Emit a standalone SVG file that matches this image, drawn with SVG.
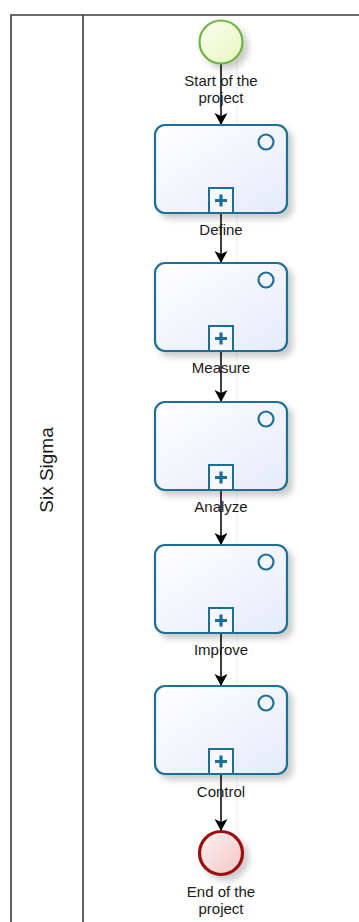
<svg xmlns="http://www.w3.org/2000/svg" width="359" height="922" viewBox="0 0 359 922">
<style>
.lbl{font-family:"Liberation Sans",Arial,sans-serif;font-size:15px;fill:#1a1a1a;text-anchor:middle}
.task{fill:url(#tg);stroke:#1d6f96;stroke-width:2.2}
.tc{fill:none;stroke:#1d6f96;stroke-width:2.2}
.pb{fill:#f7f8fe;stroke:#1d6f96;stroke-width:2}
.plus{stroke:#1d6f96;stroke-width:3.2}
.conn{stroke:#000;stroke-width:1.5;fill:none;marker-end:url(#arr)}
.pool{fill:none;stroke:#3c3c3c;stroke-width:1.6}
</style>
<defs>
<linearGradient id="tg" x1="0" y1="0" x2="1" y2="1">
<stop offset="0" stop-color="#ffffff"/><stop offset="1" stop-color="#e6eafa"/>
</linearGradient>
<linearGradient id="sg" x1="0" y1="0" x2="1" y2="1">
<stop offset="0" stop-color="#fbfff0"/><stop offset="1" stop-color="#e6f5bf"/>
</linearGradient>
<linearGradient id="eg" x1="0" y1="0" x2="1" y2="1">
<stop offset="0" stop-color="#fdf1f1"/><stop offset="1" stop-color="#f2c6c6"/>
</linearGradient>
<filter id="sh" x="-20%" y="-20%" width="150%" height="150%">
<feDropShadow dx="5" dy="5" stdDeviation="3" flood-color="#000" flood-opacity="0.2"/>
</filter>
<marker id="arr" markerWidth="14" markerHeight="14" refX="12" refY="6.5" orient="auto" markerUnits="userSpaceOnUse">
<path d="M0,0 L12,6.5 L0,13 L3,6.5 Z" fill="#000"/>
</marker>
</defs>
<rect width="359" height="922" fill="#fff"/>
<g id="pool">
<path class="pool" d="M359,15 H11 V922"/>
<line class="pool" x1="83" y1="15" x2="83" y2="922"/>
<text class="lbl" style="font-size:19px" transform="translate(53,470) rotate(-90)">Six Sigma</text>
</g>
<line x1="237" y1="45" x2="237" y2="850" stroke="#ededed" stroke-width="1"/>
<g id="connectors">
<line class="conn" x1="221" y1="64" x2="221" y2="125"/>
<line class="conn" x1="221" y1="213" x2="221" y2="263"/>
<line class="conn" x1="221" y1="351" x2="221" y2="402"/>
<line class="conn" x1="221" y1="490" x2="221" y2="545"/>
<line class="conn" x1="221" y1="633" x2="221" y2="686"/>
<line class="conn" x1="221" y1="774" x2="221" y2="831"/>
</g>
<g id="start">
<circle cx="221" cy="42" r="21.5" fill="url(#sg)" stroke="#6db33f" stroke-width="2.2" filter="url(#sh)"/>
<text class="lbl" x="221" y="86">Start of the</text>
<text class="lbl" x="221" y="103">project</text>
</g>
<g id="define">
<rect class="task" x="155" y="125" width="132" height="88" rx="10" filter="url(#sh)"/>
<circle class="tc" cx="266" cy="142" r="7.5"/>
<rect class="pb" x="209" y="188" width="24" height="25"/>
<path class="plus" d="M215,200.5 H227 M221,194.5 V206.5"/>
<text class="lbl" x="221" y="235">Define</text>
</g>
<g id="measure">
<rect class="task" x="155" y="263" width="132" height="88" rx="10" filter="url(#sh)"/>
<circle class="tc" cx="266" cy="280" r="7.5"/>
<rect class="pb" x="209" y="326" width="24" height="25"/>
<path class="plus" d="M215,338.5 H227 M221,332.5 V344.5"/>
<text class="lbl" x="221" y="373">Measure</text>
</g>
<g id="analyze">
<rect class="task" x="155" y="402" width="132" height="88" rx="10" filter="url(#sh)"/>
<circle class="tc" cx="266" cy="419" r="7.5"/>
<rect class="pb" x="209" y="465" width="24" height="25"/>
<path class="plus" d="M215,477.5 H227 M221,471.5 V483.5"/>
<text class="lbl" x="221" y="512">Analyze</text>
</g>
<g id="improve">
<rect class="task" x="155" y="545" width="132" height="88" rx="10" filter="url(#sh)"/>
<circle class="tc" cx="266" cy="562" r="7.5"/>
<rect class="pb" x="209" y="608" width="24" height="25"/>
<path class="plus" d="M215,620.5 H227 M221,614.5 V626.5"/>
<text class="lbl" x="221" y="655">Improve</text>
</g>
<g id="control">
<rect class="task" x="155" y="686" width="132" height="88" rx="10" filter="url(#sh)"/>
<circle class="tc" cx="266" cy="703" r="7.5"/>
<rect class="pb" x="209" y="749" width="24" height="25"/>
<path class="plus" d="M215,761.5 H227 M221,755.5 V767.5"/>
<text class="lbl" x="221" y="797">Control</text>
</g>
<g id="end">
<circle cx="221" cy="853" r="21.5" fill="url(#eg)" stroke="#9c0d0d" stroke-width="3.2" filter="url(#sh)"/>
<text class="lbl" x="221" y="897">End of the</text>
<text class="lbl" x="221" y="914">project</text>
</g>
</svg>
